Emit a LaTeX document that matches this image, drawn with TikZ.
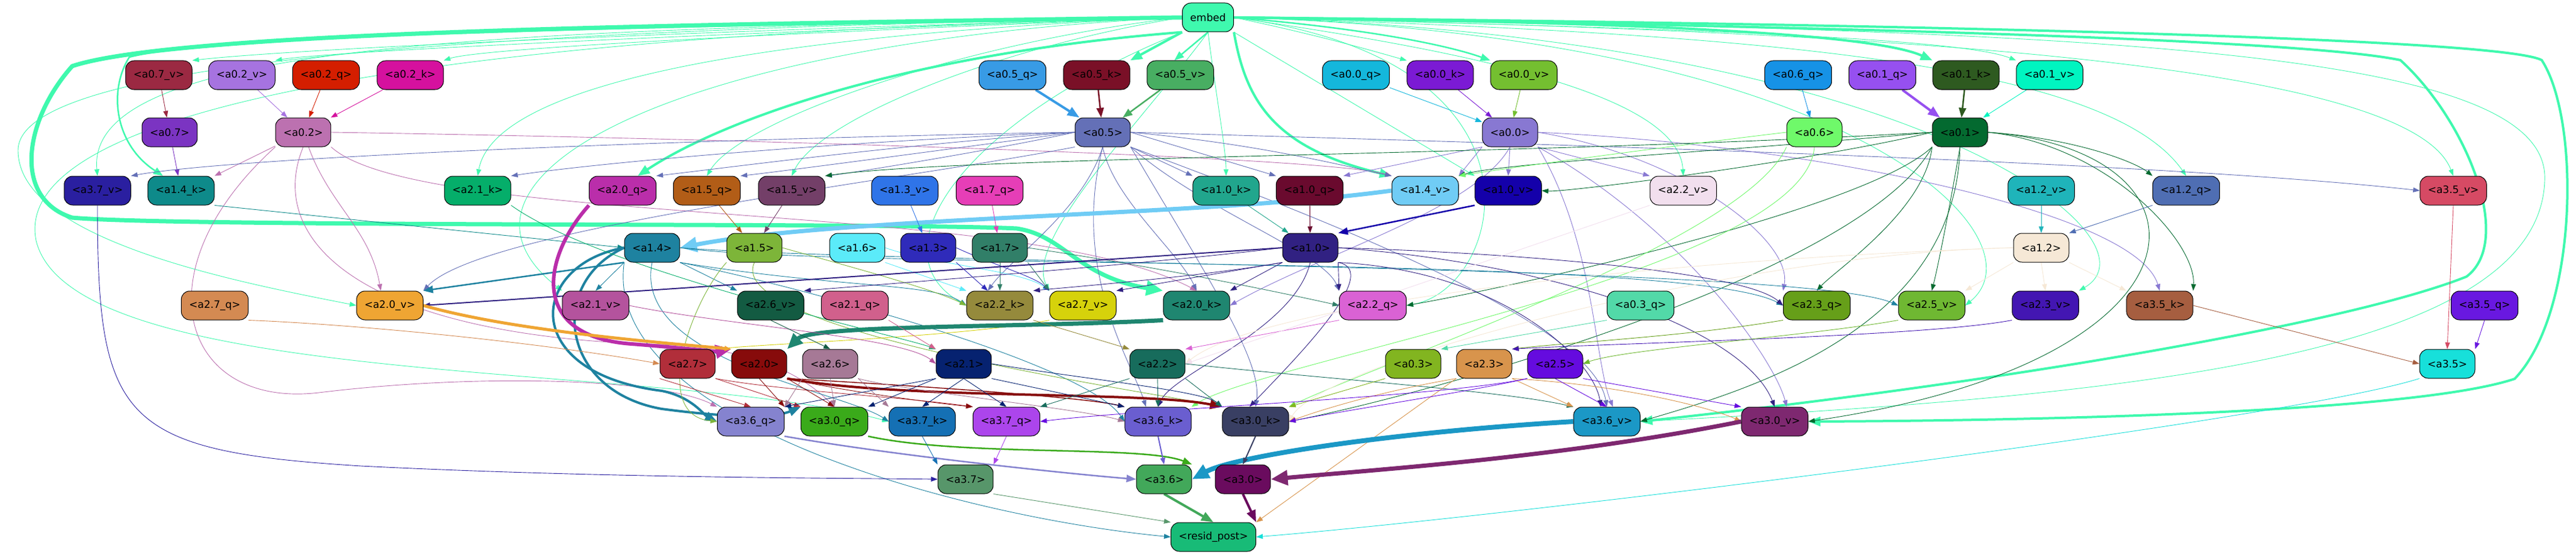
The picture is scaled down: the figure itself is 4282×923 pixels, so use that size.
\documentclass[tikz,border=0pt]{standalone}
\usepackage{fontspec}
\setmainfont{DejaVu Sans}
\usetikzlibrary{arrows.meta}
\pgfdeclarelayer{bg}
\pgfsetlayers{bg,main}
\definecolor{Cembed}{HTML}{3FF9AE}
\definecolor{Ca07v}{HTML}{9B2942}
\definecolor{Ca02v}{HTML}{A673E0}
\definecolor{Ca02q}{HTML}{D41E00}
\definecolor{Ca02k}{HTML}{D5119E}
\definecolor{Ca07}{HTML}{7B34C2}
\definecolor{Ca02}{HTML}{BC71B0}
\definecolor{Ca37v}{HTML}{2A1FA0}
\definecolor{Ca14k}{HTML}{0E8A8A}
\definecolor{Ca21k}{HTML}{05AE6A}
\definecolor{Ca20q}{HTML}{BA2EAA}
\definecolor{Ca05q}{HTML}{389BE5}
\definecolor{Ca05k}{HTML}{7A1027}
\definecolor{Ca05v}{HTML}{48AE62}
\definecolor{Ca05}{HTML}{6470B7}
\definecolor{Ca15q}{HTML}{B25D17}
\definecolor{Ca15v}{HTML}{733F68}
\definecolor{Ca13v}{HTML}{2F74E8}
\definecolor{Ca17q}{HTML}{E63EB7}
\definecolor{Ca10k}{HTML}{21A68D}
\definecolor{Ca10q}{HTML}{6A0A2E}
\definecolor{Ca14v}{HTML}{70CCF5}
\definecolor{Ca10v}{HTML}{1400AA}
\definecolor{Ca22v}{HTML}{F2DFEE}
\definecolor{Ca00q}{HTML}{14B7DC}
\definecolor{Ca00k}{HTML}{7B1AD4}
\definecolor{Ca00v}{HTML}{74BF30}
\definecolor{Ca00}{HTML}{8878D2}
\definecolor{Ca06q}{HTML}{1692E6}
\definecolor{Ca06}{HTML}{6FF96A}
\definecolor{Ca01q}{HTML}{9650F0}
\definecolor{Ca01k}{HTML}{2E5A20}
\definecolor{Ca01v}{HTML}{00F5C0}
\definecolor{Ca01}{HTML}{046A30}
\definecolor{Ca12v}{HTML}{1FB4BA}
\definecolor{Ca12q}{HTML}{4F6EB3}
\definecolor{Ca35v}{HTML}{D64A64}
\definecolor{Ca12}{HTML}{F6E8D6}
\definecolor{Ca14}{HTML}{1E82A0}
\definecolor{Ca15}{HTML}{7DB539}
\definecolor{Ca16}{HTML}{5BEBF9}
\definecolor{Ca13}{HTML}{2F2BBA}
\definecolor{Ca17}{HTML}{317F68}
\definecolor{Ca10}{HTML}{312182}
\definecolor{Ca27q}{HTML}{D48A52}
\definecolor{Ca20v}{HTML}{EFA533}
\definecolor{Ca21v}{HTML}{B4539D}
\definecolor{Ca26v}{HTML}{135B42}
\definecolor{Ca21q}{HTML}{D1608C}
\definecolor{Ca22k}{HTML}{958A3C}
\definecolor{Ca27v}{HTML}{D6D20B}
\definecolor{Ca20k}{HTML}{1F8670}
\definecolor{Ca22q}{HTML}{DA62D4}
\definecolor{Ca03q}{HTML}{52D9A8}
\definecolor{Ca23q}{HTML}{669F19}
\definecolor{Ca25v}{HTML}{6FB832}
\definecolor{Ca23v}{HTML}{4316B2}
\definecolor{Ca35k}{HTML}{A65E40}
\definecolor{Ca35q}{HTML}{6918E0}
\definecolor{Ca27}{HTML}{B12E3A}
\definecolor{Ca20}{HTML}{870B0B}
\definecolor{Ca26}{HTML}{A67996}
\definecolor{Ca21}{HTML}{062270}
\definecolor{Ca22}{HTML}{176C5C}
\definecolor{Ca03}{HTML}{82B520}
\definecolor{Ca23}{HTML}{D8944C}
\definecolor{Ca25}{HTML}{650BDF}
\definecolor{Ca35}{HTML}{17E0DA}
\definecolor{Ca36q}{HTML}{8583CF}
\definecolor{Ca30q}{HTML}{3AAA1A}
\definecolor{Ca37k}{HTML}{1570B4}
\definecolor{Ca37q}{HTML}{AC45EC}
\definecolor{Ca36k}{HTML}{6A5ED0}
\definecolor{Ca30k}{HTML}{393F63}
\definecolor{Ca36v}{HTML}{1B98C6}
\definecolor{Ca30v}{HTML}{7E2870}
\definecolor{Ca37}{HTML}{57966A}
\definecolor{Ca36}{HTML}{42A85A}
\definecolor{Ca30}{HTML}{6A0B5E}
\definecolor{Cresid}{HTML}{18BB77}
\tikzset{
  nd/.style={draw=black, line width=1pt, rounded corners=14pt, minimum height=48pt, inner xsep=13pt, inner ysep=0pt, font=\fontsize{17}{20}\selectfont, text=black, fill=#1},
  E/.style={draw=#1, line width=0.9pt, -{Triangle[length=11pt,width=8pt]}},
  W1/.style={line width=2.5pt, -{Triangle[length=16pt,width=12pt]}},
  W2/.style={line width=4pt, -{Triangle[length=20pt,width=15pt]}},
  W3/.style={line width=7pt, -{Triangle[length=28pt,width=24pt]}},
}
\begin{document}
\begin{tikzpicture}[x=1pt,y=-1pt]
\useasboundingbox (0,0) rectangle (4282,923);
% nodes
\node[nd=Cembed] (embed) at (2008,29) {embed};
\node[nd=Ca07v] (a07v) at (264,125) {<a0.7\_v>};
\node[nd=Ca02v] (a02v) at (402,125) {<a0.2\_v>};
\node[nd=Ca02q] (a02q) at (542,125) {<a0.2\_q>};
\node[nd=Ca02k] (a02k) at (682,125) {<a0.2\_k>};
\node[nd=Ca05q] (a05q) at (1683,125) {<a0.5\_q>};
\node[nd=Ca05k] (a05k) at (1823,125) {<a0.5\_k>};
\node[nd=Ca05v] (a05v) at (1962,125) {<a0.5\_v>};
\node[nd=Ca00q] (a00q) at (2254,125) {<a0.0\_q>};
\node[nd=Ca00k] (a00k) at (2394,125) {<a0.0\_k>};
\node[nd=Ca00v] (a00v) at (2533,125) {<a0.0\_v>};
\node[nd=Ca06q] (a06q) at (2989,125) {<a0.6\_q>};
\node[nd=Ca01q] (a01q) at (3129,125) {<a0.1\_q>};
\node[nd=Ca01k] (a01k) at (3268,125) {<a0.1\_k>};
\node[nd=Ca01v] (a01v) at (3407,125) {<a0.1\_v>};
\node[nd=Ca07] (a07) at (282,220) {<a0.7>};
\node[nd=Ca02] (a02) at (504,220) {<a0.2>};
\node[nd=Ca05] (a05) at (1833,220) {<a0.5>};
\node[nd=Ca00] (a00) at (2510,220) {<a0.0>};
\node[nd=Ca06] (a06) at (3016,220) {<a0.6>};
\node[nd=Ca01] (a01) at (3258,220) {<a0.1>};
\node[nd=Ca37v] (a37v) at (162,317) {<a3.7\_v>};
\node[nd=Ca14k] (a14k) at (301,317) {<a1.4\_k>};
\node[nd=Ca21k] (a21k) at (794,317) {<a2.1\_k>};
\node[nd=Ca20q] (a20q) at (1035,317) {<a2.0\_q>};
\node[nd=Ca15q] (a15q) at (1175,317) {<a1.5\_q>};
\node[nd=Ca15v] (a15v) at (1316,317) {<a1.5\_v>};
\node[nd=Ca13v] (a13v) at (1504,317) {<a1.3\_v>};
\node[nd=Ca17q] (a17q) at (1645,317) {<a1.7\_q>};
\node[nd=Ca10k] (a10k) at (2038,317) {<a1.0\_k>};
\node[nd=Ca10q] (a10q) at (2177,317) {<a1.0\_q>};
\node[nd=Ca14v] (a14v) at (2369,317) {<a1.4\_v>};
\node[nd=Ca10v] (a10v) at (2507,317) {<a1.0\_v>};
\node[nd=Ca22v] (a22v) at (2798,317) {<a2.2\_v>};
\node[nd=Ca12v] (a12v) at (3393,317) {<a1.2\_v>};
\node[nd=Ca12q] (a12q) at (3634,317) {<a1.2\_q>};
\node[nd=Ca35v] (a35v) at (4078,317) {<a3.5\_v>};
\node[nd=Ca14] (a14) at (1084,412) {<a1.4>};
\node[nd=Ca15] (a15) at (1254,412) {<a1.5>};
\node[nd=Ca16] (a16) at (1425,412) {<a1.6>};
\node[nd=Ca13] (a13) at (1543,412) {<a1.3>};
\node[nd=Ca17] (a17) at (1662,412) {<a1.7>};
\node[nd=Ca10] (a10) at (2178,412) {<a1.0>};
\node[nd=Ca12] (a12) at (3393,412) {<a1.2>};
\node[nd=Ca27q] (a27q) at (357,508) {<a2.7\_q>};
\node[nd=Ca20v] (a20v) at (648,508) {<a2.0\_v>};
\node[nd=Ca21v] (a21v) at (990,508) {<a2.1\_v>};
\node[nd=Ca26v] (a26v) at (1281,508) {<a2.6\_v>};
\node[nd=Ca21q] (a21q) at (1421,508) {<a2.1\_q>};
\node[nd=Ca22k] (a22k) at (1662,508) {<a2.2\_k>};
\node[nd=Ca27v] (a27v) at (1800,508) {<a2.7\_v>};
\node[nd=Ca20k] (a20k) at (1989,508) {<a2.0\_k>};
\node[nd=Ca22q] (a22q) at (2282,508) {<a2.2\_q>};
\node[nd=Ca03q] (a03q) at (2727,508) {<a0.3\_q>};
\node[nd=Ca23q] (a23q) at (3020,508) {<a2.3\_q>};
\node[nd=Ca25v] (a25v) at (3211,508) {<a2.5\_v>};
\node[nd=Ca23v] (a23v) at (3400,508) {<a2.3\_v>};
\node[nd=Ca35k] (a35k) at (3590,508) {<a3.5\_k>};
\node[nd=Ca35q] (a35q) at (4130,508) {<a3.5\_q>};
\node[nd=Ca27] (a27) at (1143,605) {<a2.7>};
\node[nd=Ca20] (a20) at (1262,605) {<a2.0>};
\node[nd=Ca26] (a26) at (1380,605) {<a2.6>};
\node[nd=Ca21] (a21) at (1602,605) {<a2.1>};
\node[nd=Ca22] (a22) at (1924,605) {<a2.2>};
\node[nd=Ca03] (a03) at (2349,605) {<a0.3>};
\node[nd=Ca23] (a23) at (2467,605) {<a2.3>};
\node[nd=Ca25] (a25) at (2585,605) {<a2.5>};
\node[nd=Ca35] (a35) at (4068,605) {<a3.5>};
\node[nd=Ca36q] (a36q) at (1248,701) {<a3.6\_q>};
\node[nd=Ca30q] (a30q) at (1387,701) {<a3.0\_q>};
\node[nd=Ca37k] (a37k) at (1533,701) {<a3.7\_k>};
\node[nd=Ca37q] (a37q) at (1673,701) {<a3.7\_q>};
\node[nd=Ca36k] (a36k) at (1925,701) {<a3.6\_k>};
\node[nd=Ca30k] (a30k) at (2087,701) {<a3.0\_k>};
\node[nd=Ca36v] (a36v) at (2671,701) {<a3.6\_v>};
\node[nd=Ca30v] (a30v) at (2950,701) {<a3.0\_v>};
\node[nd=Ca37] (a37) at (1605,797) {<a3.7>};
\node[nd=Ca36] (a36) at (1935,797) {<a3.6>};
\node[nd=Ca30] (a30) at (2066,797) {<a3.0>};
\node[nd=Cresid] (resid) at (2017,893) {<resid\_post>};
\begin{pgfonlayer}{bg}
\fill[white] (0,0) rectangle (4282,923);
% ---- embed edges
\draw[E=Cembed,W3] (embed.west) .. controls (1200,40) and (300,50) .. (120,110) .. controls (40,200) and (20,330) .. (120,362) .. controls (300,378) and (1500,370) .. (1690,380) .. controls (1770,392) and (1790,460) .. (a20k.north west);
\draw[E=Cembed,W1] (embed.west) .. controls (1000,45) and (350,60) .. (215,95) .. controls (180,150) and (190,240) .. ([xshift=-30pt]a14k.north);
\draw[E=Cembed,W2] (embed.south west) .. controls (1500,90) and (1200,200) .. ([xshift=25pt]a20q.north);
\draw[E=Cembed,W2] (embed.south east) .. controls (2070,160) and (2110,245) .. (a14v.north west);
\draw[E=Cembed,W2] (embed.south west) -- (a05k.north east);
\draw[E=Cembed,W1] (embed.south) -- ([xshift=-10pt]a05v.north);
\draw[E=Cembed,W2] (embed.east) .. controls (2600,35) and (3100,50) .. (a01k.north west);
\draw[E=Cembed,W1] (embed.east) .. controls (2300,50) and (2420,80) .. (a00v.north west);
\draw[E=Cembed,W2] (embed.east) .. controls (2800,40) and (3800,60) .. (3990,100) .. controls (4100,200) and (4180,400) .. (4100,460) .. controls (3900,540) and (3300,640) .. (a36v.east);
\draw[E=Cembed,W2] (embed.east) .. controls (3000,38) and (4150,60) .. (4225,100) .. controls (4290,200) and (4285,520) .. (4180,630) .. controls (4000,690) and (3300,700) .. (a30v.east);
\draw[E=Cembed] (embed.west) .. controls (1200,50) and (500,80) .. (a07v.north east);
\draw[E=Cembed] (embed.west) .. controls (1200,55) and (550,85) .. (a02v.north east);
\draw[E=Cembed] (embed.west) .. controls (1300,55) and (800,80) .. (a02k.north east);
\draw[E=Cembed] (embed.west) .. controls (900,50) and (140,60) .. (a37v.north);
\draw[E=Cembed] (embed.west) .. controls (1200,60) and (820,150) .. (a21k.north);
\draw[E=Cembed] (embed.west) .. controls (1600,70) and (1230,200) .. (a15q.north);
\draw[E=Cembed] (embed.west) .. controls (1650,80) and (1360,200) .. (a15v.north);
\draw[E=Cembed] (embed.south) .. controls (2020,150) and (2038,250) .. (a10k.north);
\draw[E=Cembed] (embed.south east) -- (a10v.north west);
\draw[E=Cembed] (embed.east) .. controls (2400,80) and (2790,150) .. (a22v.north);
\draw[E=Cembed] (embed.east) .. controls (2200,60) and (2300,90) .. (a00k.north west);
\draw[E=Cembed] (embed.east) .. controls (2700,45) and (3250,60) .. (a01v.north west);
\draw[E=Cembed] (embed.east) .. controls (2900,55) and (3500,100) .. (a12q.north);
\draw[E=Cembed] (embed.east) .. controls (3000,50) and (4000,90) .. (a35v.north);
\draw[E=Cembed] (embed.west) .. controls (800,50) and (30,100) .. (30,250) .. controls (30,400) and (400,470) .. (a20v.west);
\draw[E=Cembed] (embed.west) .. controls (1100,70) and (700,300) .. (a21v.north west);
\draw[E=Cembed] (embed.south west) .. controls (1600,200) and (1450,420) .. (a22k.west);
\draw[E=Cembed] (embed.south) .. controls (1900,200) and (1700,400) .. (a27v.north west);
\draw[E=Cembed] (embed.east) .. controls (2600,100) and (2500,480) .. (a22q.east);
\draw[E=Cembed] (embed.east) .. controls (3100,60) and (3400,400) .. (a25v.east);
\draw[E=Cembed] (embed.east) .. controls (3200,60) and (3600,400) .. (a23v.north east);
\draw[E=Cembed] (embed.east) .. controls (3500,50) and (4240,80) .. (4230,300) .. controls (4220,600) and (3500,660) .. (a36v.east);
\draw[E=Cembed] (embed.west) .. controls (600,60) and (20,200) .. (60,400) .. controls (120,650) and (1100,600) .. (a37k.west);
% ---- q/k/v -> heads (layer 0)
\draw[E=Ca07v] (a07v) -- (a07);
\draw[E=Ca02v] (a02v) -- (a02);
\draw[E=Ca02q] (a02q) -- (a02);
\draw[E=Ca02k] (a02k) -- (a02);
\draw[E=Ca05q,W2] (a05q) -- (a05);
\draw[E=Ca05k,W1] (a05k) -- (a05);
\draw[E=Ca05v,W1] (a05v) -- (a05);
\draw[E=Ca00q] (a00q) -- (a00);
\draw[E=Ca00k] (a00k) -- (a00);
\draw[E=Ca00v] (a00v) -- (a00);
\draw[E=Ca06q] (a06q) -- (a06);
\draw[E=Ca01q,W2] (a01q) -- (a01);
\draw[E=Ca01k,W1] (a01k) -- (a01);
\draw[E=Ca01v] (a01v) -- (a01);
% ---- layer 0 heads out
\draw[E=Ca07] (a07) -- (a14k);
\draw[E=Ca02] (a02) -- (a14k.north east);
\draw[E=Ca02] (a02) to[out=-70,in=100] ([xshift=-15pt]a20v.north);
\draw[E=Ca02] (a02.east) .. controls (1200,230) and (2200,260) .. (a14v.north west);
\draw[E=Ca02] (a02.south east) .. controls (700,380) and (1700,330) .. (a20k.north);
\draw[E=Ca02] (a02.south west) .. controls (230,450) and (300,680) .. (530,653) .. controls (800,620) and (1100,630) .. (a36q.north west);
\draw[E=Ca02] (a02.south) .. controls (440,400) and (600,560) .. (1100,573) .. controls (1250,580) and (1330,620) .. (a30q.north);
\draw[E=Ca05] (a05.west) .. controls (1200,230) and (400,260) .. (a37v.north east);
\draw[E=Ca05] (a05.west) .. controls (1400,235) and (1000,270) .. (a21k.north east);
\draw[E=Ca05] (a05.west) .. controls (1500,240) and (1200,280) .. (a20q.north east);
\draw[E=Ca05] (a05.west) .. controls (1600,245) and (1300,285) .. (a15q.north east);
\draw[E=Ca05] (a05.west) .. controls (1650,250) and (1400,290) .. (a15v.north east);
\draw[E=Ca05] (a05.south east) -- (a10k.north west);
\draw[E=Ca05] (a05.east) -- (a10q.north west);
\draw[E=Ca05] (a05.east) .. controls (2100,240) and (2250,280) .. (a14v.north west);
\draw[E=Ca05] (a05.east) .. controls (2600,240) and (3600,270) .. (a35v.west);
\draw[E=Ca05] (a05.south west) .. controls (1500,300) and (800,380) .. (a20v.north east);
\draw[E=Ca05] (a05.south) .. controls (1800,350) and (1680,430) .. ([xshift=-20pt]a22k.north);
\draw[E=Ca05] (a05.south) .. controls (1850,330) and (1960,420) .. (a20k.north);
\draw[E=Ca05] (a05.south east) .. controls (2000,350) and (2200,420) .. (a22q.north west);
\draw[E=Ca05] (a05.south) .. controls (1780,450) and (1880,600) .. ([xshift=-20pt]a36k.north);
\draw[E=Ca05] (a05.south east) .. controls (2000,450) and (2100,600) .. (a30k.north);
\draw[E=Ca05] (a05.south east) .. controls (2300,400) and (2650,550) .. (a36v.north);
\draw[E=Ca00] (a00.south west) -- (a10q.north east);
\draw[E=Ca00] (a00.south west) -- (a14v.north east);
\draw[E=Ca00] (a00.south) -- (a10v.north);
\draw[E=Ca00] (a00.south east) -- (a22v.north west);
\draw[E=Ca00] (a00.south) .. controls (2450,350) and (2200,420) .. (a20k.east);
\draw[E=Ca00] (a00.east) .. controls (3000,240) and (3550,350) .. (a35k.north);
\draw[E=Ca00] (a00.south east) .. controls (2650,400) and (2650,600) .. ([xshift=10pt]a36v.north);
\draw[E=Ca00] (a00.south east) .. controls (2800,380) and (2950,600) .. ([xshift=20pt]a30v.north);
\draw[E=Ca00] (a00.east) .. controls (2800,260) and (2980,400) .. (a23q.north west);
\draw[E=Ca01] (a01.east) .. controls (3450,230) and (3550,270) .. (a12q.north west);
\draw[E=Ca01] (a01.west) .. controls (3000,270) and (2600,320) .. (a10v.east);
\draw[E=Ca01] (a01.west) .. controls (2900,250) and (2500,270) .. (a14v.north east);
\draw[E=Ca01] (a01.west) .. controls (2500,260) and (1600,260) .. (a15v.north east);
\draw[E=Ca01] (a01.east) .. controls (3500,240) and (3650,400) .. (a35k.north east);
\draw[E=Ca01] (a01.south) .. controls (3240,350) and (3220,450) .. (a25v.north);
\draw[E=Ca01] (a01.south west) .. controls (3100,350) and (2500,480) .. (a22q.east);
\draw[E=Ca01] (a01.south west) .. controls (3200,350) and (3050,450) .. (a23q.north);
\draw[E=Ca01] (a01.south west) .. controls (3100,450) and (2400,650) .. (a30k.east);
\draw[E=Ca01] (a01.south) .. controls (3250,550) and (2900,650) .. (a36v.east);
\draw[E=Ca01] (a01.east) .. controls (3700,250) and (3700,600) .. (a30v.east);
\draw[E=Ca06] (a06.west) .. controls (2800,240) and (2500,280) .. (a14v.north east);
\draw[E=Ca06] (a06.south west) .. controls (2900,400) and (2300,600) .. (a30k.north east);
\draw[E=Ca06] (a06.south) .. controls (3000,450) and (2100,600) .. (a36k.north east);
% ---- layer 1 inputs
\draw[E=Ca14k] (a14k.south east) -- (a14.west);
\draw[E=Ca14v,W3] (a14v.west) .. controls (2000,360) and (1400,360) .. (a14.east);
\draw[E=Ca15q] (a15q) -- (a15);
\draw[E=Ca15v] (a15v) -- (a15);
\draw[E=Ca13v] (a13v) -- (a13);
\draw[E=Ca17q] (a17q) -- (a17);
\draw[E=Ca10k] (a10k) -- (a10);
\draw[E=Ca10q] (a10q) -- (a10);
\draw[E=Ca10v,W1] (a10v.south west) -- (a10.north east);
\draw[E=Ca12v] (a12v) -- (a12);
\draw[E=Ca12q] (a12q.south west) -- (a12.north east);
% ---- layer 1 outputs
\draw[E=Ca14] (a14.south west) -- (a21v.north);
\draw[E=Ca14] (a14.south east) -- (a26v.north west);
\draw[E=Ca14,W1] (a14.south west) -- (a20v.north east);
\draw[E=Ca14,W2] (a14.west) .. controls (880,440) and (860,620) .. (1100,650) .. controls (1150,660) and (1170,690) .. (a36q.west);
\draw[E=Ca14,W2] (a14.west) .. controls (910,470) and (930,650) .. (1100,680) .. controls (1250,700) and (1300,690) .. (a30q.north west);
\draw[E=Ca14] (a14.east) .. controls (1400,450) and (2800,420) .. (a23q.west);
\draw[E=Ca14] (a14.east) .. controls (1500,440) and (3000,440) .. (a25v.west);
\draw[E=Ca14] (a14.south east) .. controls (1400,480) and (1550,470) .. (a22k.west);
\draw[E=Ca14] (a14.south) .. controls (1050,600) and (1400,650) .. (a37k.west);
\draw[E=Ca14] (a14.south west) .. controls (1000,700) and (1600,860) .. (resid.west);
\draw[E=Ca14] (a14.south east) .. controls (1300,470) and (1800,600) .. (a36k.west);
\draw[E=Ca15] (a15.east) .. controls (1400,440) and (1550,480) .. (a22k.west);
\draw[E=Ca15] (a15.south west) .. controls (1150,500) and (1080,690) .. (a36q.west);
\draw[E=Ca15] (a15.south) .. controls (1200,550) and (1900,650) .. (a30k.north west);
\draw[E=Ca16] (a16.south east) -- (a22k.north west);
\draw[E=Ca16] (a16.east) .. controls (1550,440) and (1700,450) .. (a27v.north west);
\draw[E=Ca13] (a13.south east) -- ([xshift=-20pt]a22k.north);
\draw[E=Ca13] (a13.east) .. controls (1650,440) and (1720,460) .. (a27v.north west);
\draw[E=Ca17] (a17.south) -- (a22k.north);
\draw[E=Ca17] (a17.south east) -- (a27v.north west);
\draw[E=Ca17] (a17.east) .. controls (1900,440) and (2100,480) .. (a22q.west);
\draw[E=Ca10,line width=2pt] (a10.west) -- (a20v.east);
\draw[E=Ca10] (a10.west) .. controls (1900,440) and (1500,470) .. (a26v.north east);
\draw[E=Ca10] (a10.south west) .. controls (2000,460) and (1750,480) .. (a22k.north east);
\draw[E=Ca10] (a10.south west) -- (a27v.north east);
\draw[E=Ca10] (a10.south west) -- (a20k.north east);
\draw[E=Ca10] (a10.south east) -- (a22q.north west);
\draw[E=Ca10] (a10.south) .. controls (2150,550) and (1950,620) .. (a36k.north);
\draw[E=Ca10] (a10.south east) .. controls (2300,450) and (2150,600) .. ([xshift=-10pt]a30k.north);
\draw[E=Ca10] (a10.south east) .. controls (2500,450) and (2650,600) .. ([xshift=-10pt]a36v.north);
\draw[E=Ca10] (a10.east) .. controls (2600,440) and (2900,550) .. (a30v.north);
\draw[E=Ca10] (a10.east) .. controls (2500,420) and (2900,450) .. (a23q.west);
\draw[E=Ca12] (a12.south west) -- (a25v.north east);
\draw[E=Ca12] (a12.south) -- (a23v.north);
\draw[E=Ca12] (a12.south east) -- (a35k.north west);
\draw[E=Ca12] (a12.west) .. controls (2800,430) and (2100,500) .. (a22.east);
\draw[E=Ca12] (a12.west) .. controls (2900,420) and (2200,600) .. (a30k.east);
% ---- layer 2 inputs
\draw[E=Ca27q] (a27q.south east) .. controls (600,540) and (900,570) .. (a27.west);
\draw[E=Ca27v] (a27v.south west) .. controls (1600,560) and (1300,570) .. (a27.north east);
\draw[E=Ca20q,line width=6pt,-{Triangle[length=26pt,width=22pt]}] (a20q.south west) .. controls (900,430) and (880,560) .. (1050,572) .. controls (1150,580) and (1190,585) .. (a20.north west);
\draw[E=Ca20v,line width=5pt] (a20v.east) .. controls (850,550) and (1100,570) .. (a20.north west);
\draw[E=Ca20k,line width=7pt,-{Triangle[length=26pt,width=22pt]}] (a20k.south west) .. controls (1700,545) and (1350,540) .. (a20.north east);
\draw[E=Ca21k] (a21k.south east) .. controls (1000,450) and (1500,560) .. (a21.north west);
\draw[E=Ca21q] (a21q.south east) -- (a21.north west);
\draw[E=Ca21v] (a21v.east) .. controls (1200,540) and (1500,560) .. (a21.west);
\draw[E=Ca26v] (a26v.south) -- (a26.north);
\draw[E=Ca22k] (a22k.south east) -- (a22.north west);
\draw[E=Ca22q] (a22q.south west) -- (a22.north east);
\draw[E=Ca22v] (a22v.south west) -- (a22.east);
\draw[E=Ca03q] (a03q.south west) -- (a03.north east);
\draw[E=Ca23q] (a23q.south west) .. controls (2800,560) and (2600,570) .. (a23.north east);
\draw[E=Ca23v] (a23v.south west) .. controls (3200,560) and (2700,570) .. (a23.north east);
\draw[E=Ca25v] (a25v.south west) .. controls (3000,560) and (2700,580) .. (a25.east);
\draw[E=Ca35v] (a35v.south) -- (a35.north);
\draw[E=Ca35q] (a35q.south) -- (a35.north east);
\draw[E=Ca35k] (a35k.east) -- (a35.west);
% ---- layer 2 outputs
\draw[E=Ca27] (a27.south west) -- (a36q.north);
\draw[E=Ca27] (a27.south east) -- (a30q.north west);
\draw[E=Ca27] (a27.south east) .. controls (1300,650) and (1500,660) .. (a37q.north west);
\draw[E=Ca20] (a20.south) -- (a36q.north east);
\draw[E=Ca20] (a20.south east) -- (a30q.north);
\draw[E=Ca20] (a20.south east) .. controls (1400,650) and (1550,670) .. (a37q.north west);
\draw[E=Ca20,line width=1.5pt] (a20.south east) .. controls (1500,640) and (1800,660) .. (a36k.north west);
\draw[E=Ca20,W2] (a20.south east) .. controls (1500,665) and (1900,650) .. (a30k.north west);
\draw[E=Ca26] (a26.south west) -- (a36q.north east);
\draw[E=Ca26] (a26.south) -- (a30q.north);
\draw[E=Ca26] (a26.south east) -- (a37k.north west);
\draw[E=Ca26] (a26.south east) .. controls (1500,650) and (1800,680) .. (a36k.west);
\draw[E=Ca21] (a21.south west) -- (a36q.north east);
\draw[E=Ca21] (a21.south west) -- (a30q.north east);
\draw[E=Ca21] (a21.south) -- (a37k.north);
\draw[E=Ca21] (a21.south) -- (a37q.north);
\draw[E=Ca21] (a21.south east) -- (a36k.north west);
\draw[E=Ca21] (a21.east) .. controls (1800,630) and (2000,650) .. (a30k.north west);
\draw[E=Ca22] (a22.south) -- (a36k.north);
\draw[E=Ca22] (a22.south east) -- (a30k.north west);
\draw[E=Ca22] (a22.south west) -- (a37q.north east);
\draw[E=Ca22] (a22.east) .. controls (2200,630) and (2500,650) .. (a36v.north west);
\draw[E=Ca03] (a03.south west) -- (a30k.north east);
\draw[E=Ca23] (a23.south west) .. controls (2300,650) and (2200,680) .. (a30k.east);
\draw[E=Ca23] (a23.south east) -- (a36v.north west);
\draw[E=Ca23] (a23.south east) .. controls (2700,640) and (2850,680) .. (a30v.west);
\draw[E=Ca23] (a23.south west) -- (resid.north east);
\draw[E=Ca25] (a25.south west) .. controls (2400,660) and (1900,680) .. (a37q.east);
\draw[E=Ca25] (a25.south) -- (a36v.north);
\draw[E=Ca25] (a25.south east) -- (a30v.north west);
\draw[E=Ca25] (a25.south west) .. controls (2450,650) and (2250,680) .. (a30k.east);
% ---- layer 3
\draw[E=Ca36q,W1] (a36q.south east) .. controls (1500,760) and (1800,790) .. (a36.west);
\draw[E=Ca30q,W1] (a30q.south east) .. controls (1600,760) and (1900,740) .. (a36.north east);
\draw[E=Ca36k,line width=2pt] (a36k.south) -- (a36.north);
\draw[E=Ca36v,line width=8pt,-{Triangle[length=28pt,width=24pt]}] (a36v.west) .. controls (2300,720) and (2050,760) .. (a36.east);
\draw[E=Ca30k,line width=2pt] (a30k.south) -- (a30.north);
\draw[E=Ca30v,line width=7pt,-{Triangle[length=28pt,width=24pt]}] (a30v.west) .. controls (2600,760) and (2300,780) .. (a30.east);
\draw[E=Ca37k] (a37k.south) -- (a37.north west);
\draw[E=Ca37q] (a37q.south) -- (a37.north east);
\draw[E=Ca37v] (a37v.south) .. controls (162,700) and (200,750) .. (600,775) .. controls (1000,795) and (1400,795) .. (a37.west);
\draw[E=Ca37] (a37.south east) -- (resid.north west);
\draw[E=Ca36,W2] (a36.south) -- (resid.north);
\draw[E=Ca30,W2] (a30.south) -- (resid.north east);
\draw[E=Ca35] (a35.south west) .. controls (3800,700) and (2500,860) .. (resid.east);
\end{pgfonlayer}
\end{tikzpicture}
\end{document}
